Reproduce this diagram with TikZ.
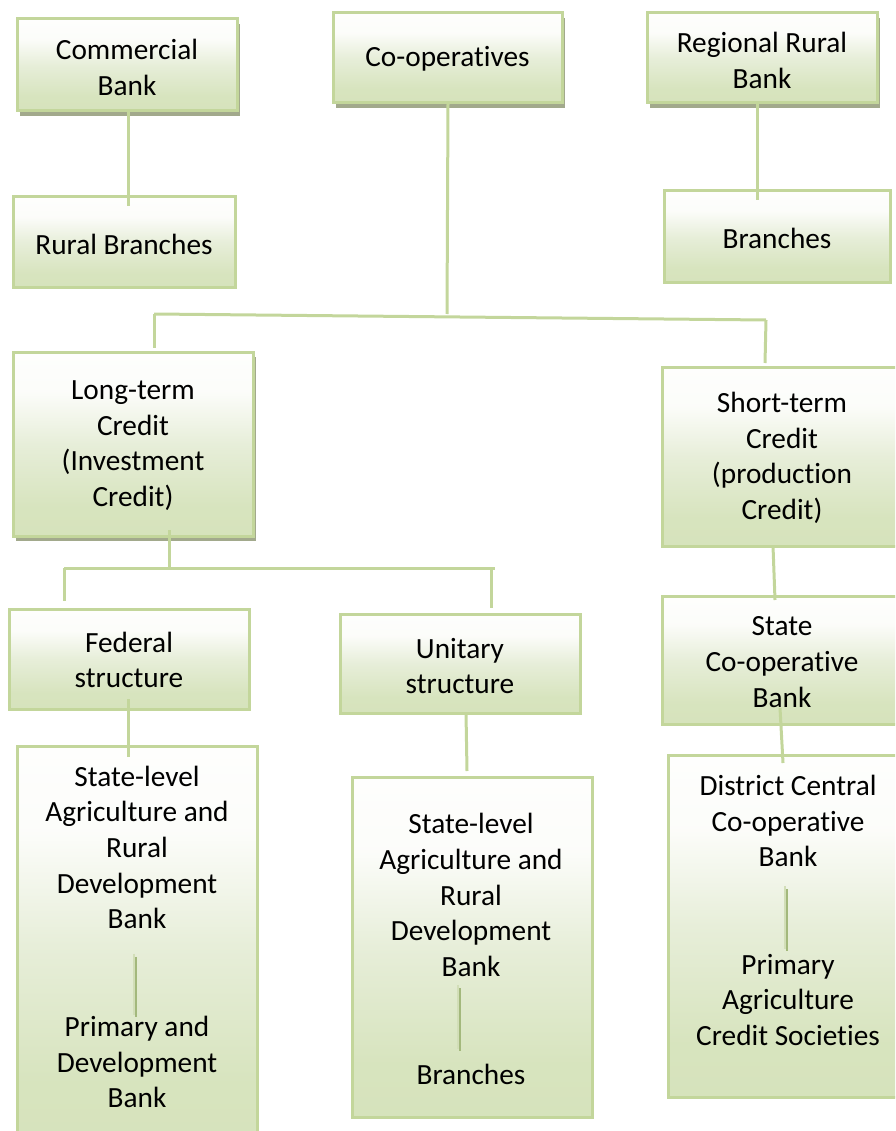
\documentclass[tikz,border=0pt]{standalone}
\usepackage{fontspec}
\setmainfont{Carlito}[RawFeature={-liga;-clig;-dlig}]
\usetikzlibrary{calc,shadows}

\definecolor{edgegreen}{HTML}{C3D69B}
\definecolor{fillbot}{HTML}{D6E3BC}
\definecolor{fillmid}{HTML}{E7EED9}
\definecolor{filltop}{HTML}{FEFEFD}
\definecolor{shadowgrey}{HTML}{A2A98C}
\definecolor{rulelight}{HTML}{D2DEB8}
\definecolor{ruledark}{HTML}{A3B87C}

% vertical fill of the boxes: light at the top, olive green at the bottom
\pgfdeclareverticalshading{boxfill}{100bp}{%
  color(0bp)=(fillbot); color(25bp)=(fillbot); color(33bp)=(fillbot!92!fillmid);
  color(50bp)=(fillmid); color(64bp)=(filltop!90!fillmid); color(75bp)=(filltop);
  color(100bp)=(filltop)}

\newcommand{\boxfont}{\fontsize{29.3}{35.6}\selectfont}

\tikzset{
  box/.style={draw=edgegreen, line width=3pt, shading=boxfill, inner sep=0pt,
    outer sep=0pt, align=center, font=\boxfont},
  shadowed/.style={drop shadow={fill=shadowgrey, opacity=1,
    shadow xshift=3pt, shadow yshift=-5pt}},
  txt/.style={align=center, inner sep=0pt, outer sep=0pt, font=\boxfont},
  conn/.style={draw=edgegreen, line width=3pt},
  rulehi/.style={draw=rulelight, line width=2pt},
  rulelo/.style={draw=ruledark, line width=2pt},
}

\begin{document}
\begin{tikzpicture}[x=1pt, y=-1pt]
\useasboundingbox (0,0) rectangle (895,1131);
\begin{scope}
\clip (0,0) rectangle (895,1131);

% top row
\node[box, shadowed, minimum width=220pt, minimum height=92pt] (cb) at (127,65) {};
\node[txt] (cbT) at (127,67.5) {Commercial\\Bank};
\node[box, shadowed, minimum width=229pt, minimum height=90pt] (coop) at (447.5,58) {};
\node[txt] (coopT) at (447.5,59) {Co-operatives};
\node[box, shadowed, minimum width=230pt, minimum height=90pt] (rrb) at (762,58) {};
\node[txt] (rrbT) at (762,60.5) {Regional Rural\\Bank};

\node[box, minimum width=222pt, minimum height=91pt] (rb) at (124,242.5) {};
\node[txt] (rbT) at (124,244) {Rural Branches};
\node[box, minimum width=226pt, minimum height=92pt] (br) at (777,237) {};
\node[txt] (brT) at (777,238) {Branches};

% credit types
\node[box, shadowed, minimum width=240pt, minimum height=184pt] (lt) at (133,444) {};
\node[txt] (ltT) at (133,445.5) {Long-term\\Credit\\(Investment\\Credit)};
\node[box, minimum width=240pt, minimum height=179pt] (st) at (782,456.5) {};
\node[txt] (stT) at (782,458) {Short-term\\Credit\\(production\\Credit)};

% structures
\node[box, minimum width=240pt, minimum height=100pt] (fed) at (129,659) {};
\node[txt] (fedT) at (129,660) {Federal\\structure};
\node[box, minimum width=240pt, minimum height=99pt] (uni) at (460,663.5) {};
\node[txt] (uniT) at (460,666) {Unitary\\structure};
\node[box, minimum width=240pt, minimum height=128pt] (sc) at (782,660) {};
\node[txt] (scT) at (782,662) {State\\Co-operative\\Bank};

% lower tall boxes
\node[box, minimum width=240pt, minimum height=399pt] (sl) at (137,945.5) {};
\node[box, minimum width=240pt, minimum height=340pt] (ul) at (472,947) {};
\node[box, minimum width=240pt, minimum height=342pt] (dc) at (788,926) {};

\node[txt] (slA) at (137,847.5) {State-level\\Agriculture and\\Rural\\Development\\Bank};
\node[txt] (slB) at (137,1062) {Primary and\\Development\\Bank};
\node[txt] (ulA) at (471,895) {State-level\\Agriculture and\\Rural\\Development\\Bank};
\node[txt] (ulB) at (471,1074) {Branches};
\node[txt] (dcA) at (788,821) {District Central\\Co-operative\\Bank};
\node[txt] (dcB) at (788,1000) {Primary\\Agriculture\\Credit Societies};

% bus junctions
\coordinate (cjoin) at (447,314);
\coordinate (busL) at (154,314);
\coordinate (busR) at (766,320);
\coordinate (ltj) at (169,568);
\coordinate (b2L) at (64,568);
\coordinate (b2R) at (495,568);
\coordinate (b2drop) at (491,568);

% connectors
\draw[conn] ($(cb.south)+(1,0)$) -- ($(rb.north)+(4,9)$);
\draw[conn] ($(rrb.south)+(-5,0)$) -- ($(br.north)+(-20,9)$);
\draw[conn] ($(coop.south)+(0.5,0)$) -- (cjoin);
\draw[conn] (busL) -- (busR);
\draw[conn] (busL) -- ($(lt.north)+(21,-4)$);
\draw[conn] (busR) -- ($(st.north)+(-17,-4)$);

\draw[conn] ($(lt.south)+(36,-6)$) -- (ltj);
\draw[conn] (b2L) -- (b2R);
\draw[conn] (b2L) -- ($(fed.north)+(-65,-8)$);
\draw[conn] (b2drop) -- ($(uni.north)+(31,-6)$);

\draw[conn] ($(fed.south)+(-1,-10)$) -- ($(sl.north)+(-9,11)$);
\draw[conn] ($(uni.south)+(6,0)$) -- ($(ul.north)+(-5,-6)$);
\draw[conn] ($(st.south)+(-9,0)$) -- ($(sc.north)+(-7,4)$);
\draw[conn] ($(sc.south)+(-2,-16)$) -- ($(dc.north)+(-5,8)$);

% short rules inside the tall boxes
\draw[rulehi] ($(slA.south)+(-3,25)$) -- ($(slB.north)+(-3,-1)$);
\draw[rulelo] ($(slA.south)+(-1,28)$) -- ($(slB.north)+(-1,1)$);
\draw[rulehi] ($(ulA.south)+(-13,9)$) -- ($(ulB.north)+(-13,-15)$);
\draw[rulelo] ($(ulA.south)+(-11,12)$) -- ($(ulB.north)+(-11,-13)$);
\draw[rulehi] ($(dcA.south)+(-3,19)$) -- ($(dcB.north)+(-3,-5)$);
\draw[rulelo] ($(dcA.south)+(-1,22)$) -- ($(dcB.north)+(-1,-3)$);
\end{scope}
\end{tikzpicture}
\end{document}
